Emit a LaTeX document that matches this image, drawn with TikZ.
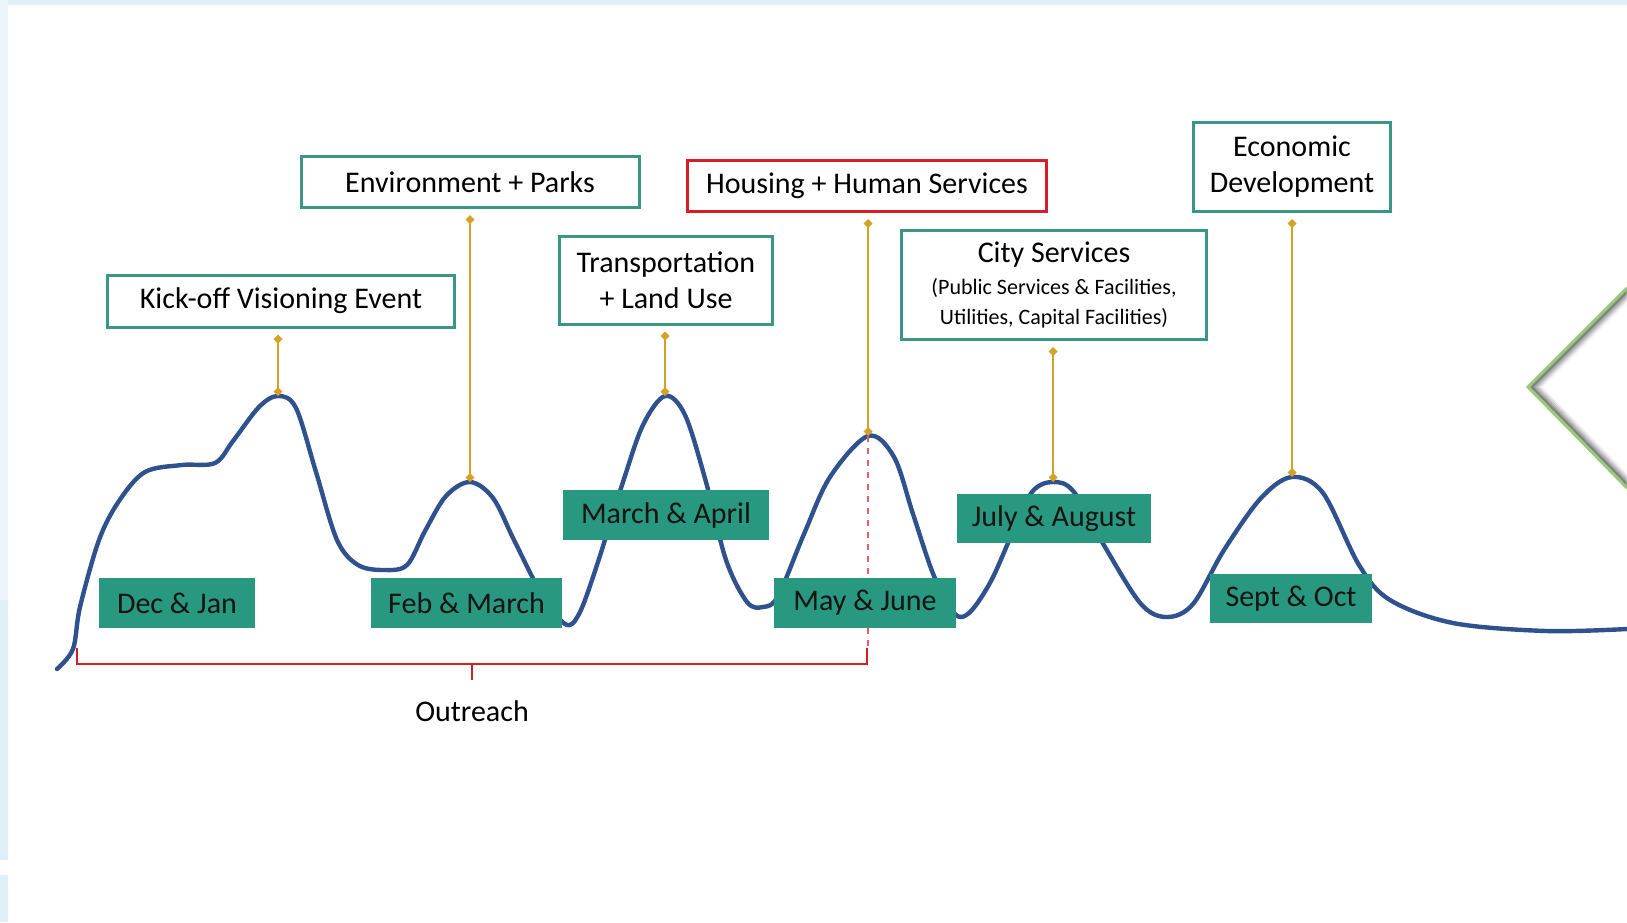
\documentclass[tikz,border=0pt]{standalone}
\usepackage{fontspec}
\setmainfont{Carlito}
\usetikzlibrary{arrows.meta}
\definecolor{topicteal}{RGB}{58,150,134}
\definecolor{monthteal}{RGB}{40,152,128}
\definecolor{outred}{RGB}{214,28,36}
\definecolor{stemgold}{RGB}{212,163,38}
\definecolor{curveblue}{RGB}{47,82,143}
\definecolor{frameblue}{RGB}{224,238,248}
\definecolor{diamgreen}{RGB}{152,202,124}
\tikzset{topic/.style={draw=topicteal,line width=1.5pt,fill=white,align=center,inner sep=0pt,font=\fontsize{15}{18}\selectfont},
  redtopic/.style={topic,draw=outred},
  month/.style={fill=monthteal,inner sep=0pt,text=black!92,font=\fontsize{15}{18}\selectfont},
  stem/.style={stemgold,line width=1pt,{Diamond[length=4.5pt,width=4.5pt]}-{Diamond[length=4.5pt,width=4.5pt]},shorten <=3pt},
  bracket/.style={outred,line width=1pt},
  timeline/.style={curveblue,line width=2.2pt,line cap=round}}

\begin{document}
\begin{tikzpicture}[x=0.5pt,y=-0.5pt]
    \useasboundingbox (0,0) rectangle (1627,922);
    % frame
    \fill[frameblue] (0,0) rectangle (1627,5);
    \fill[frameblue!60] (0,0) rectangle (8,600);
    \fill[frameblue] (0,600) rectangle (8,860) (0,875) rectangle (8,922);
    % diamond at the right edge
    \foreach \d/\o in {12/0.04,10/0.07,8/0.1,6/0.14,4/0.2,2/0.3}
        \draw[black,opacity=\o,line width=2pt] (1627,288+\d) -- (1528+\d,387) -- (1627,488-\d);
    \draw[diamgreen,line width=1.5pt] (1627,288) -- (1528,387) -- (1627,488);
    % peaks
    \coordinate (p1) at (278,396);
    \coordinate (p2) at (470,482);
    \coordinate (p3) at (665,396);
    \coordinate (p4) at (868,436);
    \coordinate (p5) at (1053,482);
    \coordinate (p6) at (1292,477);
    % timeline
    \draw[timeline] plot[smooth,tension=0.55] coordinates {
        (57,669) (73,649) (80,607) (99,540) (119,501) (145,472) (182,465) (215,463)
        (233,441) (259,407) (278,396) (296,408) (316,472) (337,540) (358,565) (384,570)
        (407,565) (425,531) (446,496) (470,482) (493,498) (514,540) (540,591) (565,624)
        (579,614) (597,565) (623,482) (643,425) (665,396) (685,415) (706,482) (726,560)
        (747,602) (763,607) (778,596) (804,534) (830,477) (868,436) (894,457) (913,514)
        (934,576) (955,614) (970,612) (991,581) (1012,534) (1032,492) (1053,482) (1074,492)
        (1105,547) (1141,604) (1167,617) (1193,604) (1224,550) (1261,498) (1292,477) (1323,493)
        (1359,565) (1390,600) (1453,623) (1546,631) (1627,629)};
    % topics
    \node[topic,minimum width=173.5pt,minimum height=26pt] (kickoff) at (281,301) {Kick-off Visioning Event};
    \node[topic,minimum width=169pt,minimum height=25.5pt] (envparks) at (470,182) {Environment + Parks};
    \node[topic,minimum width=106.5pt,minimum height=44pt] (transport) at (666,280) {Transportation\\+ Land Use};
    \node[redtopic,minimum width=179.5pt,minimum height=25.5pt] (housing) at (867,186) {Housing + Human Services};
    \node[topic,minimum width=152.5pt,minimum height=54.5pt] (cityserv) at (1054,285)
        {City Services\\[-2pt]{\fontsize{11}{13.5}\selectfont (Public Services \& Facilities,}\\[-3pt]{\fontsize{11}{13.5}\selectfont Utilities, Capital Facilities)}};
    \node[topic,minimum width=98.5pt,minimum height=44.5pt] (econdev) at (1292,167) {Economic\\Development};
    % stems
    \draw[stem] (kickoff.south -| p1) -- (p1);
    \draw[stem] (envparks.south -| p2) -- (p2);
    \draw[stem] (transport.south -| p3) -- (p3);
    \draw[stem] (housing.south -| p4) -- (p4);
    \draw[stem] (cityserv.south -| p5) -- (p5);
    \draw[stem] (econdev.south -| p6) -- (p6);
    % outreach
    \coordinate (outL) at (77,648);
    \coordinate (outR) at (867,648);
    \draw[outred!70,dashed,line width=0.6pt] (p4) -- (p4 |- outR);
    \draw[bracket] (outL) -- ++(0,16) -| (outR);
    \draw[bracket] (472,664) -- (472,680);
    \node[font=\fontsize{15}{18}\selectfont] (outreach) at (472,711) {Outreach};
    % months
    \node[month,minimum width=78pt,minimum height=25pt] (decjan) at (177,603) {Dec \& Jan\hspace{5pt}};
    \node[month,minimum width=95.5pt,minimum height=25pt] (febmar) at (466.5,603) {Feb \& March};
    \node[month,minimum width=103pt,minimum height=25pt] (marapr) at (666,515) {March \& April};
    \node[month,minimum width=91pt,minimum height=25pt] (mayjun) at (865,603) {May \& June};
    \node[month,minimum width=97pt,minimum height=24.5pt] (julaug) at (1054,518.5) {July \& August};
    \node[month,minimum width=81pt,minimum height=24.5pt] (septoct) at (1291,598.5) {Sept \& Oct};
\end{tikzpicture}
\end{document}
